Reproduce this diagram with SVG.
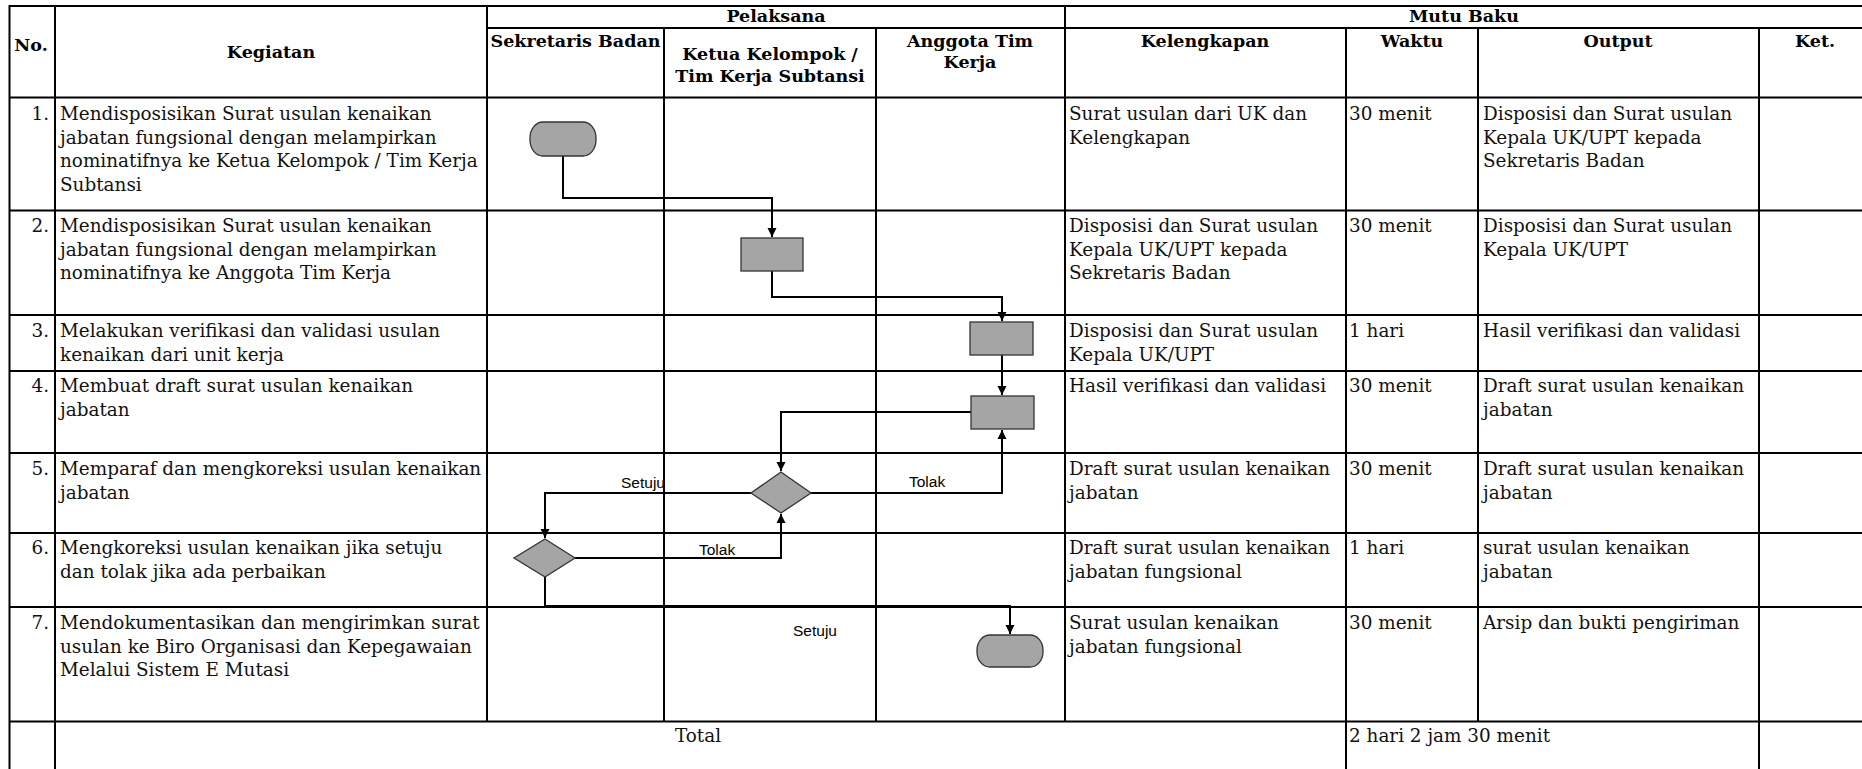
<svg xmlns="http://www.w3.org/2000/svg" width="1862" height="769" viewBox="0 0 1862 769">
<style>
.grid line{stroke:#000;stroke-width:2}
.hd{font-family:"DejaVu Serif","Liberation Serif",serif;font-size:17.5px;font-weight:bold;fill:#000}
.tx{font-family:"DejaVu Serif","Liberation Serif",serif;font-size:18.4px;fill:#111}
.lb{font-family:"Liberation Sans",Arial,sans-serif;font-size:15.5px;fill:#000}
.shape{fill:#a5a5a5;stroke:#333;stroke-width:1.3}
.conn path{fill:none;stroke:#000;stroke-width:2}
</style>
<defs>
<marker id="arr" markerUnits="userSpaceOnUse" markerWidth="10" markerHeight="10" refX="9" refY="5" orient="auto">
<path d="M0,0.5 L9,5 L0,9.5 z" fill="#000"/>
</marker>
</defs>
<rect x="0" y="0" width="1862" height="769" fill="#fff"/>
<g class="grid" id="table">
<line x1="9.5" y1="6" x2="1862" y2="6"/>
<line x1="487" y1="28" x2="1862" y2="28"/>
<line x1="9.5" y1="97.5" x2="1862" y2="97.5"/>
<line x1="9.5" y1="210.5" x2="1862" y2="210.5"/>
<line x1="9.5" y1="315" x2="1862" y2="315"/>
<line x1="9.5" y1="371" x2="1862" y2="371"/>
<line x1="9.5" y1="453" x2="1862" y2="453"/>
<line x1="9.5" y1="533" x2="1862" y2="533"/>
<line x1="9.5" y1="607" x2="1862" y2="607"/>
<line x1="9.5" y1="721.5" x2="1862" y2="721.5"/>
<line x1="9.5" y1="5" x2="9.5" y2="769"/>
<line x1="55" y1="5" x2="55" y2="769"/>
<line x1="487" y1="5" x2="487" y2="721.5"/>
<line x1="664" y1="28" x2="664" y2="721.5"/>
<line x1="876" y1="28" x2="876" y2="721.5"/>
<line x1="1065" y1="5" x2="1065" y2="721.5"/>
<line x1="1346" y1="28" x2="1346" y2="769"/>
<line x1="1478" y1="28" x2="1478" y2="721.5"/>
<line x1="1759" y1="28" x2="1759" y2="769"/>
</g>
<g id="headers">
<text class="hd" x="31" y="51" text-anchor="middle">No.</text>
<text class="hd" x="271" y="58" text-anchor="middle">Kegiatan</text>
<text class="hd" x="776" y="22" text-anchor="middle">Pelaksana</text>
<text class="hd" x="575.5" y="47" text-anchor="middle">Sekretaris Badan</text>
<text class="hd" x="770" y="60" text-anchor="middle">Ketua Kelompok /<tspan x="770" dy="22">Tim Kerja Subtansi</tspan></text>
<text class="hd" x="970" y="47" text-anchor="middle">Anggota Tim<tspan x="970" dy="21">Kerja</tspan></text>
<text class="hd" x="1464" y="22" text-anchor="middle">Mutu Baku</text>
<text class="hd" x="1205" y="47" text-anchor="middle">Kelengkapan</text>
<text class="hd" x="1412" y="47" text-anchor="middle">Waktu</text>
<text class="hd" x="1618" y="47" text-anchor="middle">Output</text>
<text class="hd" x="1815" y="47" text-anchor="middle">Ket.</text>
</g>
<g id="rows">
<g id="row1">
<text class="tx" x="49" y="120" text-anchor="end">1.</text>
<text class="tx" x="60" y="120">Mendisposisikan Surat usulan kenaikan<tspan x="60" dy="23.5">jabatan fungsional dengan melampirkan</tspan><tspan x="60" dy="23.5">nominatifnya ke Ketua Kelompok / Tim Kerja</tspan><tspan x="60" dy="23.5">Subtansi</tspan></text>
<text class="tx" x="1069" y="120">Surat usulan dari UK dan<tspan x="1069" dy="23.5">Kelengkapan</tspan></text>
<text class="tx" x="1349" y="120">30 menit</text>
<text class="tx" x="1483" y="120">Disposisi dan Surat usulan<tspan x="1483" dy="23.5">Kepala UK/UPT kepada</tspan><tspan x="1483" dy="23.5">Sekretaris Badan</tspan></text>
</g>
<g id="row2">
<text class="tx" x="49" y="232" text-anchor="end">2.</text>
<text class="tx" x="60" y="232">Mendisposisikan Surat usulan kenaikan<tspan x="60" dy="23.5">jabatan fungsional dengan melampirkan</tspan><tspan x="60" dy="23.5">nominatifnya ke Anggota Tim Kerja</tspan></text>
<text class="tx" x="1069" y="232">Disposisi dan Surat usulan<tspan x="1069" dy="23.5">Kepala UK/UPT kepada</tspan><tspan x="1069" dy="23.5">Sekretaris Badan</tspan></text>
<text class="tx" x="1349" y="232">30 menit</text>
<text class="tx" x="1483" y="232">Disposisi dan Surat usulan<tspan x="1483" dy="23.5">Kepala UK/UPT</tspan></text>
</g>
<g id="row3">
<text class="tx" x="49" y="337" text-anchor="end">3.</text>
<text class="tx" x="60" y="337">Melakukan verifikasi dan validasi usulan<tspan x="60" dy="23.5">kenaikan dari unit kerja</tspan></text>
<text class="tx" x="1069" y="337">Disposisi dan Surat usulan<tspan x="1069" dy="23.5">Kepala UK/UPT</tspan></text>
<text class="tx" x="1349" y="337">1 hari</text>
<text class="tx" x="1483" y="337">Hasil verifikasi dan validasi</text>
</g>
<g id="row4">
<text class="tx" x="49" y="392" text-anchor="end">4.</text>
<text class="tx" x="60" y="392">Membuat draft surat usulan kenaikan<tspan x="60" dy="23.5">jabatan</tspan></text>
<text class="tx" x="1069" y="392">Hasil verifikasi dan validasi</text>
<text class="tx" x="1349" y="392">30 menit</text>
<text class="tx" x="1483" y="392">Draft surat usulan kenaikan<tspan x="1483" dy="23.5">jabatan</tspan></text>
</g>
<g id="row5">
<text class="tx" x="49" y="475" text-anchor="end">5.</text>
<text class="tx" x="60" y="475">Memparaf dan mengkoreksi usulan kenaikan<tspan x="60" dy="23.5">jabatan</tspan></text>
<text class="tx" x="1069" y="475">Draft surat usulan kenaikan<tspan x="1069" dy="23.5">jabatan</tspan></text>
<text class="tx" x="1349" y="475">30 menit</text>
<text class="tx" x="1483" y="475">Draft surat usulan kenaikan<tspan x="1483" dy="23.5">jabatan</tspan></text>
</g>
<g id="row6">
<text class="tx" x="49" y="554" text-anchor="end">6.</text>
<text class="tx" x="60" y="554">Mengkoreksi usulan kenaikan jika setuju<tspan x="60" dy="23.5">dan tolak jika ada perbaikan</tspan></text>
<text class="tx" x="1069" y="554">Draft surat usulan kenaikan<tspan x="1069" dy="23.5">jabatan fungsional</tspan></text>
<text class="tx" x="1349" y="554">1 hari</text>
<text class="tx" x="1483" y="554">surat usulan kenaikan<tspan x="1483" dy="23.5">jabatan</tspan></text>
</g>
<g id="row7">
<text class="tx" x="49" y="629" text-anchor="end">7.</text>
<text class="tx" x="60" y="629">Mendokumentasikan dan mengirimkan surat<tspan x="60" dy="23.5">usulan ke Biro Organisasi dan Kepegawaian</tspan><tspan x="60" dy="23.5">Melalui Sistem E Mutasi</tspan></text>
<text class="tx" x="1069" y="629">Surat usulan kenaikan<tspan x="1069" dy="23.5">jabatan fungsional</tspan></text>
<text class="tx" x="1349" y="629">30 menit</text>
<text class="tx" x="1483" y="629">Arsip dan bukti pengiriman</text>
</g>
<g id="total">
<text class="tx" x="698" y="742" text-anchor="middle">Total</text>
<text class="tx" x="1349" y="742">2 hari 2 jam 30 menit</text>
</g>
</g>
<g class="conn" id="connectors">
<path d="M563,156 V198 H772 V237" marker-end="url(#arr)"/>
<path d="M772,271 V297 H1002 V321" marker-end="url(#arr)"/>
<path d="M1002,355 V395" marker-end="url(#arr)"/>
<path d="M971,412 H781 V471" marker-end="url(#arr)"/>
<path d="M811,493 H1002 V430" marker-end="url(#arr)"/>
<path d="M751,493 H545 V538" marker-end="url(#arr)"/>
<path d="M575,558 H781 V514" marker-end="url(#arr)"/>
<path d="M545,577 V606 H1010 V634" marker-end="url(#arr)"/>
<text class="lb" x="909" y="487">Tolak</text>
<text class="lb" x="621" y="488">Setuju</text>
<text class="lb" x="699" y="555">Tolak</text>
<text class="lb" x="793" y="636">Setuju</text>
</g>
<g id="start"><rect class="shape" x="530" y="122" width="66" height="34" rx="13" ry="16"/></g>
<g id="step2"><rect class="shape" x="741" y="238" width="62" height="33"/></g>
<g id="step3"><rect class="shape" x="970" y="322" width="63" height="33"/></g>
<g id="step4"><rect class="shape" x="971" y="396" width="63" height="33"/></g>
<g id="decision1"><polygon class="shape" points="781,472 811,493 781,513 751,493"/></g>
<g id="decision2"><polygon class="shape" points="545,539 575,558 545,577 514,558"/></g>
<g id="end"><rect class="shape" x="977" y="635" width="66" height="32" rx="13" ry="15"/></g>
</svg>
